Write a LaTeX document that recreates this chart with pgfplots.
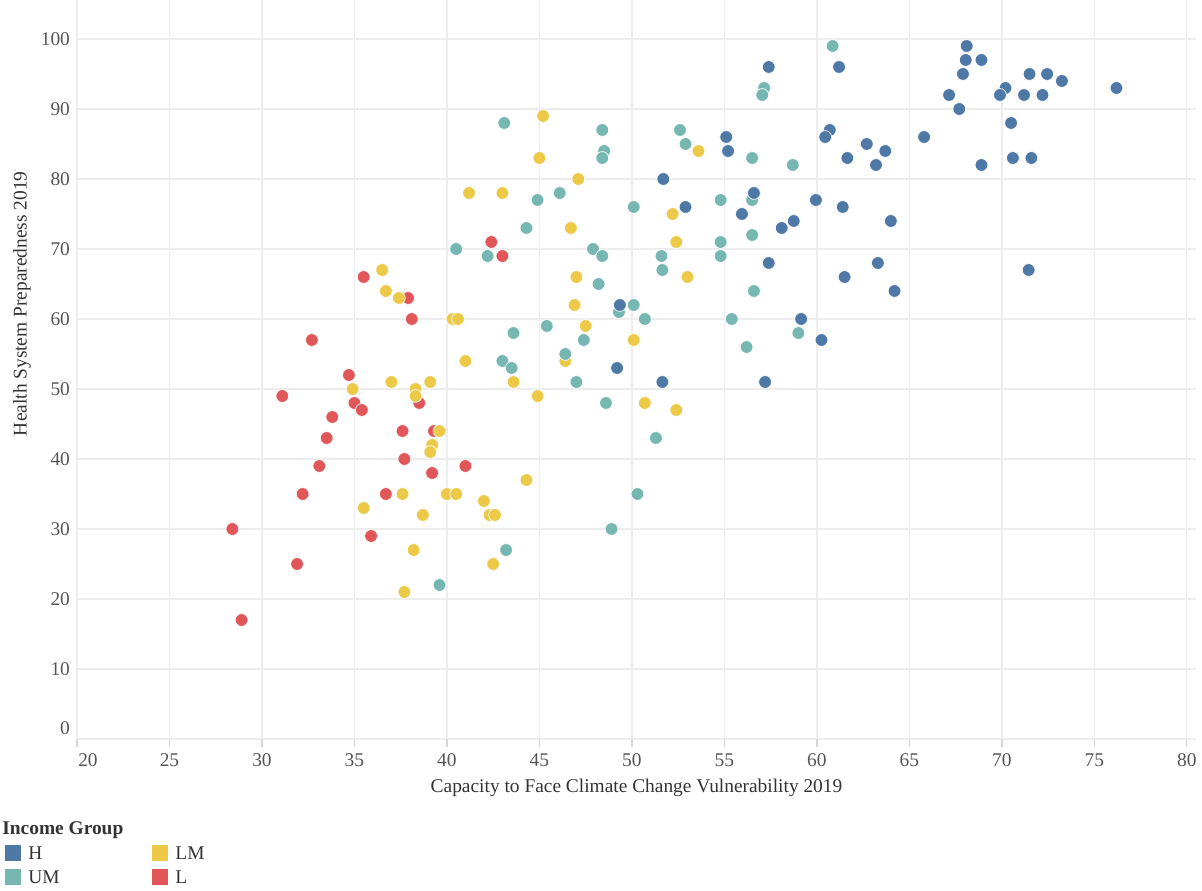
\documentclass[border=0pt]{standalone}
\usepackage{fontspec}
\setmainfont{Liberation Serif}
\usepackage{pgfplots}
\pgfplotsset{compat=1.18}
\definecolor{cH}{HTML}{4E79A7}
\definecolor{cUM}{HTML}{76B7B2}
\definecolor{cLM}{HTML}{EDC948}
\definecolor{cL}{HTML}{E15759}
\definecolor{gridc}{HTML}{EDEDED}
\definecolor{tickc}{HTML}{555555}
\definecolor{labc}{HTML}{333333}
\begin{document}
\begin{tikzpicture}
\useasboundingbox (-38.5pt,-75.5pt) rectangle (562.5pt,369.5pt);
\begin{axis}[
  at={(0pt,0pt)}, anchor=south west,
  scale only axis, width=559.5pt, height=369.5pt,
  xmin=20, xmax=80.5, ymin=0, ymax=105.57,
  xtick={20,25,...,80}, ytick={0,10,...,100},
  xticklabels={\hspace*{11pt}20,25,30,35,40,45,50,55,60,65,70,75,80},
  yticklabels={\raisebox{11pt}{0},10,20,30,40,50,60,70,80,90,100},
  grid=major, major grid style={gridc, line width=0.7pt},
  axis line style={draw=none},
  xtick pos=bottom, ytick pos=left,
  xtick align=outside, major tick length=4pt,
  xtick style={gridc!80!gray, line width=0.7pt},
  ytick style={draw=none},
  tick label style={font=\fontsize{9.7}{11}\selectfont, text=tickc},
  /pgf/number format/assume math mode=true,
  xlabel={Capacity to Face Climate Change Vulnerability 2019},
  ylabel={Health System Preparedness 2019},
  label style={font=\fontsize{9.7}{11}\selectfont, text=labc},
  xlabel style={at={(axis description cs:0.5,-0.0663)}, anchor=center},
  ylabel style={at={(axis description cs:-0.0492,0.589)}, anchor=center},
  every axis plot/.append style={only marks, mark=*, mark size=3.2pt},
]
% L
\addplot[mark options={fill=cL, draw=white, line width=0.35pt}] coordinates {
(42.4,71) (43.0,69) (35.5,66) (37.9,63) (38.1,60) (32.7,57) (34.7,52) (31.1,49)
(35.0,48) (35.4,47) (38.5,48) (33.8,46) (37.6,44) (39.3,44) (33.5,43) (37.7,40)
(33.1,39) (39.2,38) (41.0,39) (32.2,35) (36.7,35) (28.4,30) (35.9,29) (31.9,25)
(28.9,17)
};
% LM
\addplot[mark options={fill=cLM, draw=white, line width=0.35pt}] coordinates {
(41.2,78) (45.2,89) (45.0,83) (53.6,84) (47.1,80) (43.0,78) (52.2,75) (46.7,73)
(52.4,71) (36.5,67) (36.7,64) (37.4,63) (40.3,60) (40.6,60) (41.0,54) (34.9,50)
(37.0,51) (38.3,50) (38.3,49) (39.1,51) (39.6,44) (39.2,42) (39.1,41) (37.6,35)
(40.0,35) (40.5,35) (53.0,66) (47.0,66) (46.9,62) (47.5,59) (50.1,57) (46.4,54)
(43.6,51) (44.9,49) (50.7,48) (52.4,47) (44.3,37) (42.0,34) (35.5,33) (38.7,32)
(38.2,27) (37.7,21) (42.3,32) (42.6,32) (42.5,25)
};
% UM
\addplot[mark options={fill=cUM, draw=white, line width=0.35pt}] coordinates {
(40.5,70) (43.1,88) (48.4,87) (48.5,84) (48.4,83) (52.6,87) (52.9,85) (44.9,77)
(46.1,78) (50.1,76) (54.8,77) (44.3,73) (47.9,70) (48.4,69) (51.6,69) (54.8,71)
(54.8,69) (42.2,69) (60.85,99) (57.15,93) (57.05,92) (56.5,83) (58.7,82) (56.5,77)
(56.5,72) (51.65,67) (48.2,65) (49.3,61) (50.1,62) (50.7,60) (43.6,58) (45.4,59)
(47.4,57) (46.4,55) (43.0,54) (43.5,53) (47.0,51) (48.6,48) (51.3,43) (50.3,35)
(56.6,64) (55.4,60) (59.0,58) (56.2,56) (39.6,22) (48.9,30) (43.2,27)
};
% H
\addplot[mark options={fill=cH, draw=white, line width=0.35pt}] coordinates {
(51.7,80) (52.9,76) (57.4,96) (61.2,96) (68.1,99) (68.05,97) (67.9,95) (67.15,92)
(67.7,90) (65.8,86) (55.1,86) (55.2,84) (60.7,87) (60.45,86) (61.65,83) (62.7,85)
(63.7,84) (63.2,82) (56.6,78) (55.95,75) (58.1,73) (58.75,74) (59.95,77) (61.4,76)
(64.0,74) (57.4,68) (63.3,68) (68.9,97) (71.5,95) (72.45,95) (73.25,94) (70.2,93)
(69.9,92) (71.2,92) (72.2,92) (76.2,93) (70.5,88) (70.6,83) (71.6,83) (68.9,82)
(61.5,66) (64.2,64) (59.15,60) (60.25,57) (57.2,51) (71.45,67) (49.35,62) (49.2,53)
(51.65,51)
};
\end{axis}
% legend
\node[anchor=west, inner sep=0, font=\bfseries\fontsize{9.7}{11}\selectfont, text=labc] at (-37.5pt,-45.5pt) {Income Group};
\fill[cH] (-36pt,-61pt) rectangle (-28pt,-53pt);
\fill[cUM] (-36pt,-73pt) rectangle (-28pt,-65pt);
\fill[cLM] (37.5pt,-61pt) rectangle (45.5pt,-53pt);
\fill[cL] (37.5pt,-73pt) rectangle (45.5pt,-65pt);
\begin{scope}[every node/.style={anchor=west, inner sep=0, font=\fontsize{9.7}{11}\selectfont, text=labc}]
\node at (-24.5pt,-57pt) {H};
\node at (-24.5pt,-69pt) {UM};
\node at (49pt,-57pt) {LM};
\node at (49pt,-69pt) {L};
\end{scope}
\end{tikzpicture}
\end{document}
